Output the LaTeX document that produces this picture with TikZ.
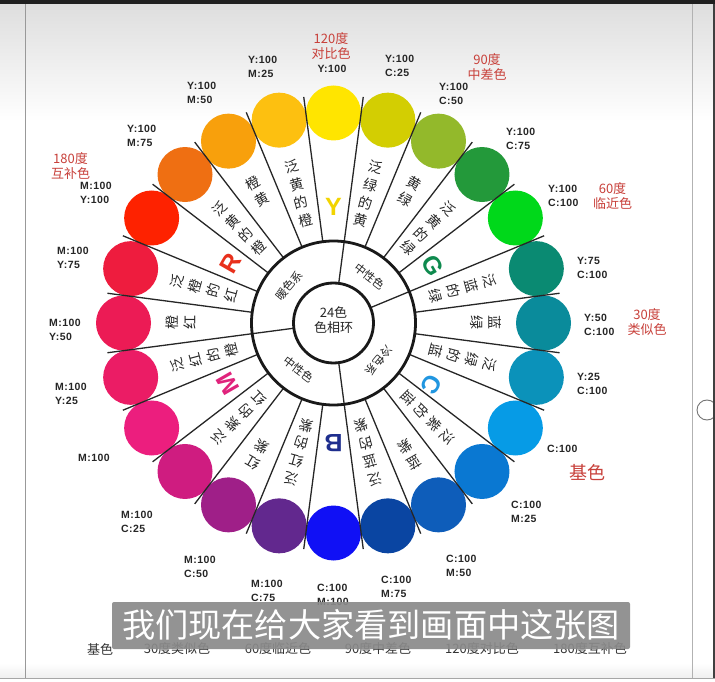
\documentclass[tikz,border=0pt]{standalone}
\usepackage{fontspec}
\newfontfamily\cjk{Noto Sans CJK SC}
\newfontfamily\lab[LetterSpace=4.0]{Liberation Sans}
\newfontfamily\letfont{Liberation Sans}
\usetikzlibrary{calc}
\definecolor{k90}{HTML}{FFE500}
\definecolor{k105}{HTML}{FDC010}
\definecolor{k120}{HTML}{F8A00C}
\definecolor{k135}{HTML}{EF6F12}
\definecolor{k150}{HTML}{FE2200}
\definecolor{k165}{HTML}{EE1C3E}
\definecolor{k180}{HTML}{EC1B55}
\definecolor{k195}{HTML}{EB1C65}
\definecolor{k210}{HTML}{EC1E7E}
\definecolor{k225}{HTML}{CF1C80}
\definecolor{k240}{HTML}{9F1F88}
\definecolor{k255}{HTML}{62288E}
\definecolor{k270}{HTML}{1010F5}
\definecolor{k285}{HTML}{0A45A2}
\definecolor{k300}{HTML}{0E5DBA}
\definecolor{k315}{HTML}{0A78D2}
\definecolor{k330}{HTML}{069BE6}
\definecolor{k345}{HTML}{0B92BA}
\definecolor{k0}{HTML}{0A8B9B}
\definecolor{k15}{HTML}{0A8A72}
\definecolor{k30}{HTML}{00D81A}
\definecolor{k45}{HTML}{23993A}
\definecolor{k60}{HTML}{93B92B}
\definecolor{k75}{HTML}{D3CE02}
\definecolor{annred}{HTML}{C8403A}
\definecolor{lY}{HTML}{F2D400}
\definecolor{lR}{HTML}{E8301C}
\definecolor{lG}{HTML}{0E8A4E}
\definecolor{lM}{HTML}{E0237C}
\definecolor{lB}{HTML}{1E2E8E}
\definecolor{lC}{HTML}{2196E0}
\definecolor{subbox}{HTML}{8A8A8A}
\tikzset{
  dot/.style={circle, inner sep=0pt, minimum size=55pt},
  spoke/.style={line width=1.3pt, black!85},
  ring/.style={circle, draw=black!90, line width=2.8pt, inner sep=0pt},
  wlabel/.style={font=\cjk\fontsize{14}{18.5}\selectfont, align=center, inner sep=0pt, text=black!85, anchor=north},
  bigletter/.style={font=\letfont\bfseries\fontsize{25}{25}\selectfont, inner sep=0pt},
  ringlabel/.style={font=\cjk\fontsize{11.5}{12}\selectfont, inner sep=0pt, text=black!85},
  cmyk/.style={font=\lab\bfseries\fontsize{10.5}{14}\selectfont, align=left, inner sep=0pt, anchor=west, text=black!85},
  ann/.style={font=\cjk\fontsize{13}{15}\selectfont, align=center, inner sep=0pt, text=annred},
  legend/.style={font=\cjk\fontsize{13}{15}\selectfont, inner sep=0pt, text=black!80}
}
\begin{document}
\begin{tikzpicture}[x=1pt,y=1pt]
\useasboundingbox (0,0) rectangle (715,681);
% background and frame
\fill[white] (0,0) rectangle (715,681);
\shade[top color=black!13, bottom color=white] (0,560) rectangle (715,677);
\shade[top color=white, bottom color=black!6] (0,4) rectangle (715,18);
\fill[black!88] (0,677) rectangle (715,681);
\draw[black!40, line width=1pt] (25,3) -- (25,677);
\draw[black!30, line width=1pt] (692,3) -- (692,677);
\draw[black!35, line width=1pt] (0,3) -- (715,3);
\node[circle, draw=black!55, fill=white, line width=0.9pt, minimum size=20pt, inner sep=0pt] (knob) at (707,271) {};
\draw[black!75, line width=1.6pt] (714.2,3) -- (714.2,677);

\coordinate (C) at (333.5,358);

% colour dots
\foreach \a in {90,105,120,135,150,165,180,195,210,225,240,255,270,285,300,315,330,345,0,15,30,45,60,75}
  \node[dot, fill=k\a] (c\a) at ($(C)+(\a:210)$) {};

% spokes
\foreach \a in {7.5,22.5,37.5,52.5,67.5,82.5,97.5,112.5,127.5,142.5,157.5,172.5,187.5,202.5,217.5,232.5,247.5,262.5,277.5,292.5,307.5,322.5,337.5,352.5}
  \draw[spoke] ($(C)+(\a:82)$) -- ($(C)+(\a:228)$);
\foreach \a in {22.5,82.5,187.5,277.5}
  \draw[spoke] ($(C)+(\a:40)$) -- ($(C)+(\a:82)$);

% rings
\node[ring, minimum size=164pt] (midring) at (C) {};
\node[ring, minimum size=80pt] (inring) at (C) {};
\node[font=\cjk\fontsize{13}{15}\selectfont, align=center, inner sep=0pt, text=black!85] (centre) at (333.5,361) {24色\\色相环};

% middle ring sectors
\node[ringlabel, rotate=50] (warm) at ($(C)+(140:58)$) {暖色系};
\node[ringlabel, rotate=-37.5] (neutral1) at ($(C)+(52.5:59)$) {中性色};
\node[ringlabel, rotate=-130] (cold) at ($(C)+(-40:59)$) {冷色系};
\node[ringlabel, rotate=-37] (neutral2) at ($(C)+(233:58)$) {中性色};

% wedge labels
\foreach \a/\t in {105/{泛\\黄\\的\\橙}, 120/{橙\\黄}, 135/{泛\\黄\\的\\橙}, 165/{泛\\橙\\的\\红}, 180/{橙\\红}, 195/{泛\\红\\的\\橙}, 225/{泛\\紫\\的\\红}, 240/{红\\紫}, 255/{泛\\红\\的\\紫}, 285/{泛\\蓝\\的\\紫}, 300/{蓝\\紫}, 315/{泛\\紫\\的\\蓝}, 345/{泛\\绿\\的\\蓝}, 0/{蓝\\绿}, 15/{泛\\蓝\\的\\绿}, 45/{泛\\黄\\的\\绿}, 60/{黄\\绿}, 75/{泛\\绿\\的\\黄}}
  \node[wlabel, rotate=\a-90] (w\a) at ($(C)+(\a:168)$) {\t};

% primary letters
\node[bigletter, text=lY, rotate=0] (LY) at ($(C)+(90:116)$) {Y};
\node[bigletter, text=lR, rotate=60] (LR) at ($(C)+(150:119)$) {R};
\node[bigletter, text=lM, rotate=120] (LM) at ($(C)+(210:122)$) {M};
\node[bigletter, text=lB, rotate=180] (LB) at ($(C)+(270:120)$) {B};
\node[bigletter, text=lC, rotate=240] (LC) at ($(C)+(328:116)$) {C};
\node[bigletter, text=lG, rotate=-60] (LG) at ($(C)+(30:115)$) {G};

% CMYK values
\node[cmyk] (t105) at (248,614) {Y:100\\M:25};
\node[cmyk] (t120) at (187,588) {Y:100\\M:50};
\node[cmyk] (t135) at (127,545) {Y:100\\M:75};
\node[cmyk] (t150) at (80,488) {M:100\\Y:100};
\node[cmyk] (t165) at (57,423) {M:100\\Y:75};
\node[cmyk] (t180) at (49,351) {M:100\\Y:50};
\node[cmyk] (t195) at (55,287) {M:100\\Y:25};
\node[cmyk] (t210) at (78,223) {M:100};
\node[cmyk] (t225) at (121,159) {M:100\\C:25};
\node[cmyk] (t240) at (184,114) {M:100\\C:50};
\node[cmyk] (t255) at (251,90) {M:100\\C:75};
\node[cmyk] (t270) at (317,86) {C:100\\M:100};
\node[cmyk] (t285) at (381,94) {C:100\\M:75};
\node[cmyk] (t300) at (446,115) {C:100\\M:50};
\node[cmyk] (t315) at (511,169.5) {C:100\\M:25};
\node[cmyk] (t330) at (547,232) {C:100};
\node[cmyk] (t345) at (577,297) {Y:25\\C:100};
\node[cmyk] (t0) at (584,356) {Y:50\\C:100};
\node[cmyk] (t15) at (577,413) {Y:75\\C:100};
\node[cmyk] (t30) at (548,485) {Y:100\\C:100};
\node[cmyk] (t45) at (506,542) {Y:100\\C:75};
\node[cmyk] (t60) at (439,587) {Y:100\\C:50};
\node[cmyk] (t75) at (385,615) {Y:100\\C:25};
\node[cmyk, anchor=center, align=center] (t90) at (332,612) {Y:100};

% red annotations
\node[ann] (a120) at (331,634.5) {120度\\对比色};
\node[ann] (a90) at (487,613.5) {90度\\中差色};
\node[ann] (a60) at (612.5,485) {60度\\临近色};
\node[ann] (a30) at (647,358.5) {30度\\类似色};
\node[ann, font=\cjk\fontsize{18}{20}\selectfont] (abase) at (587,209) {基色};
\node[ann] (a180) at (70.5,515) {180度\\互补色};

% legend row
\node[legend] (g1) at (100,32) {基色};
\node[legend] (g2) at (177,32) {30度类似色};
\node[legend] (g3) at (278,32) {60度临近色};
\node[legend] (g4) at (378,32) {90度中差色};
\node[legend] (g5) at (482,32) {120度对比色};
\node[legend] (g6) at (590,32) {180度互补色};

% subtitle
\fill[subbox, opacity=0.92, rounded corners=2pt] (112,32) rectangle (630,79);
\node[font=\cjk\fontsize{33.2}{35}\selectfont, text=white, inner sep=0pt] (sub) at (371,56) {我们现在给大家看到画面中这张图};
\end{tikzpicture}
\end{document}
